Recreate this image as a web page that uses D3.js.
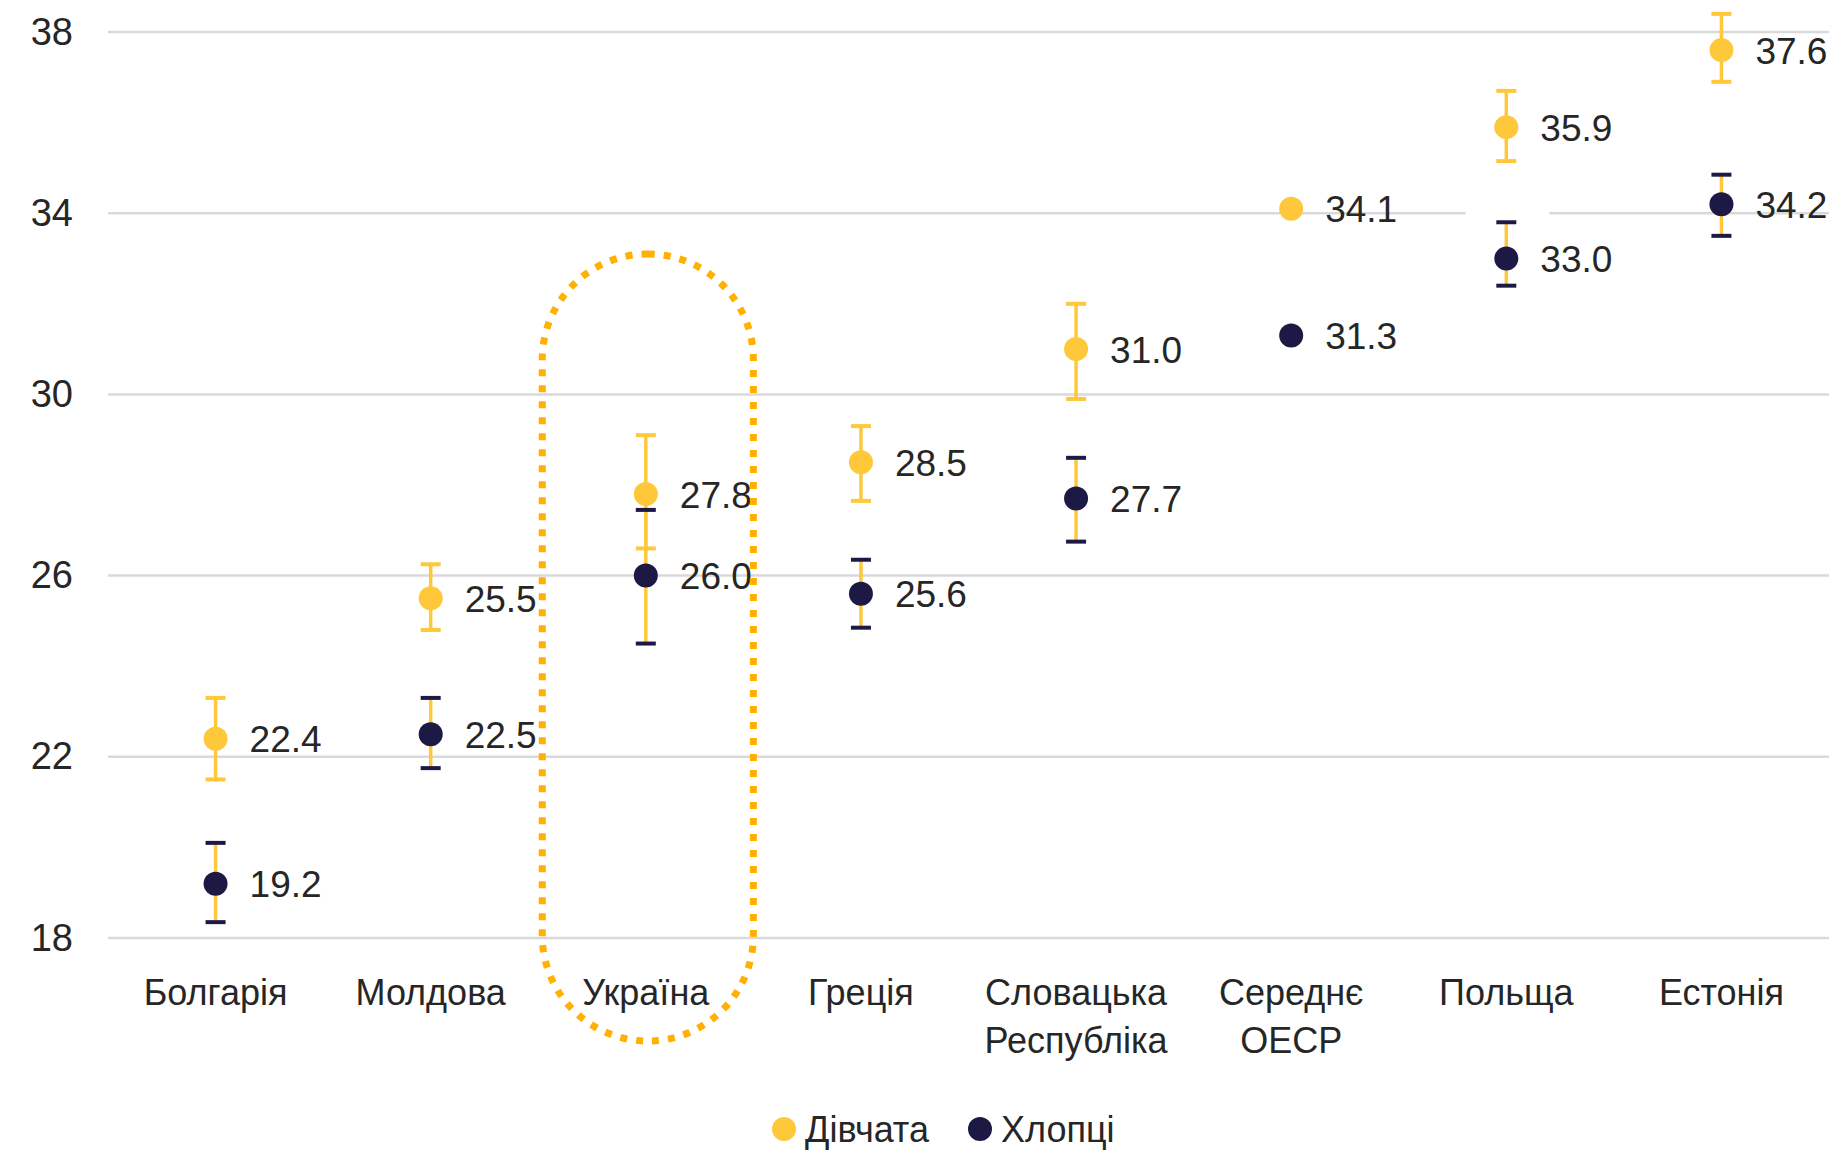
<!DOCTYPE html>
<html>
<head>
<meta charset="utf-8">
<script src="https://cdn.jsdelivr.net/npm/d3@7"></script>
<style>
  body { margin: 0; background: #fff; }
  svg { display: block; }
  text { font-family: 'Liberation Sans', Arial, sans-serif; fill: #262626; }
</style>
</head>
<body>
<svg id="chart" width="1841" height="1150"></svg>
<script>
// categories (line breaks as in the source)
const categories = ['Болгарія', 'Молдова', 'Україна', 'Греція', 'Словацька\nРеспубліка', 'Середнє\nОЕСР', 'Польща', 'Естонія'];
const yTicks = [18, 22, 26, 30, 34, 38];

const girls     = [22.4, 25.5, 27.8, 28.5, 31.0, 34.1, 35.9, 37.6];
const girlsLow  = [21.5, 24.8, 26.6, 27.65, 29.9, null, 35.15, 36.9];
const girlsHigh = [23.3, 26.25, 29.1, 29.3, 32.0, null, 36.7, 38.4];

const boys     = [19.2, 22.5, 26.0, 25.6, 27.7, 31.3, 33.0, 34.2];
const boysLow  = [18.35, 21.75, 24.5, 24.85, 26.75, null, 32.4, 33.5];
const boysHigh = [20.1, 23.3, 27.45, 26.35, 28.6, null, 33.8, 34.85];

const seriesNames = ['Дівчата', 'Хлопці'];
const highlight = 'Україна';

const yellow = '#ffc83a';
const navy = '#1c1a45';
const orange = '#ffb000';

const svg = d3.select('#chart');
const margin = { left: 108, right: 12, top: 32, bottom: 212 };
const width = 1841, height = 1150;

const x = d3.scaleBand()
    .domain(categories)
    .range([margin.left, width - margin.right]);

const y = d3.scaleLinear()
    .domain([18, 38])
    .range([height - margin.bottom, margin.top]);

// gridlines
svg.append('g')
    .selectAll('line')
    .data(yTicks)
    .join('line')
    .attr('x1', margin.left)
    .attr('x2', width - margin.right)
    .attr('y1', d => y(d))
    .attr('y2', d => y(d))
    .attr('stroke', '#d9d9d9')
    .attr('stroke-width', 2.5);

// small break in the 34 line next to Польща
svg.append('rect')
    .attr('x', x('Польща') + x.bandwidth() * 0.31)
    .attr('y', y(34) - 3)
    .attr('width', x.bandwidth() * 0.39)
    .attr('height', 6)
    .attr('fill', '#fff');

// y axis labels
const yAxis = d3.axisLeft(y).tickValues(yTicks).tickSize(0).tickPadding(0);
svg.append('g')
    .attr('transform', `translate(${margin.left - 35},0)`)
    .call(yAxis)
    .call(g => g.select('.domain').remove())
    .call(g => g.selectAll('text')
        .attr('font-size', 38)
        .attr('font-family', null)
        .attr('fill', '#262626'));

// x axis labels
const xLab = svg.append('g');
categories.forEach(c => {
    const t = xLab.append('text')
        .attr('x', x(c) + x.bandwidth() / 2)
        .attr('y', y(18) + 67)
        .attr('text-anchor', 'middle')
        .attr('font-size', 36);
    c.split('\n').forEach((line, i) => {
        t.append('tspan')
            .attr('x', x(c) + x.bandwidth() / 2)
            .attr('dy', i === 0 ? 0 : 48)
            .text(line);
    });
});

function drawSeries(values, low, high, color) {
    const g = svg.append('g');
    const cx = i => x(categories[i]) + x.bandwidth() / 2;
    const idx = d3.range(values.length);
    const withErr = idx.filter(i => low[i] != null);

    g.selectAll('line.stem')
        .data(withErr)
        .join('line')
        .attr('class', 'stem')
        .attr('x1', cx).attr('x2', cx)
        .attr('y1', i => y(low[i]))
        .attr('y2', i => y(high[i]))
        .attr('stroke', yellow)
        .attr('stroke-width', 3.5);

    [low, high].forEach(arr => {
        g.selectAll(null)
            .data(withErr)
            .join('line')
            .attr('x1', i => cx(i) - 10).attr('x2', i => cx(i) + 10)
            .attr('y1', i => y(arr[i])).attr('y2', i => y(arr[i]))
            .attr('stroke', color)
            .attr('stroke-width', 4);
    });

    g.selectAll('circle')
        .data(idx)
        .join('circle')
        .attr('cx', cx)
        .attr('cy', i => y(values[i]))
        .attr('r', 12)
        .attr('fill', color);

    g.selectAll('text')
        .data(idx)
        .join('text')
        .attr('x', i => cx(i) + 34)
        .attr('y', i => y(values[i]))
        .attr('dy', '0.37em')
        .attr('font-size', 37)
        .text(i => values[i].toFixed(1));
}

drawSeries(girls, girlsLow, girlsHigh, yellow);
drawSeries(boys, boysLow, boysHigh, navy);

// dotted highlight around Україна
const hw = x.bandwidth();
svg.append('rect')
    .attr('x', x(highlight) + 4)
    .attr('y', y(33.1))
    .attr('width', hw - 4)
    .attr('height', y(18) - y(33.1) + 103)
    .attr('rx', (hw - 4) / 2)
    .attr('ry', (hw - 4) / 2)
    .attr('fill', 'none')
    .attr('stroke', orange)
    .attr('stroke-width', 7)
    .attr('stroke-dasharray', '7 9');

// legend
const legend = svg.append('g').attr('transform', `translate(0,${height - 21})`);
const legendX = [784, 980];
seriesNames.forEach((name, i) => {
    legend.append('circle')
        .attr('cx', legendX[i])
        .attr('cy', 0)
        .attr('r', 12)
        .attr('fill', i === 0 ? yellow : navy);
    legend.append('text')
        .attr('x', legendX[i] + 21)
        .attr('y', 0)
        .attr('dy', '0.37em')
        .attr('font-size', 36)
        .text(name);
});
</script>
</body>
</html>
